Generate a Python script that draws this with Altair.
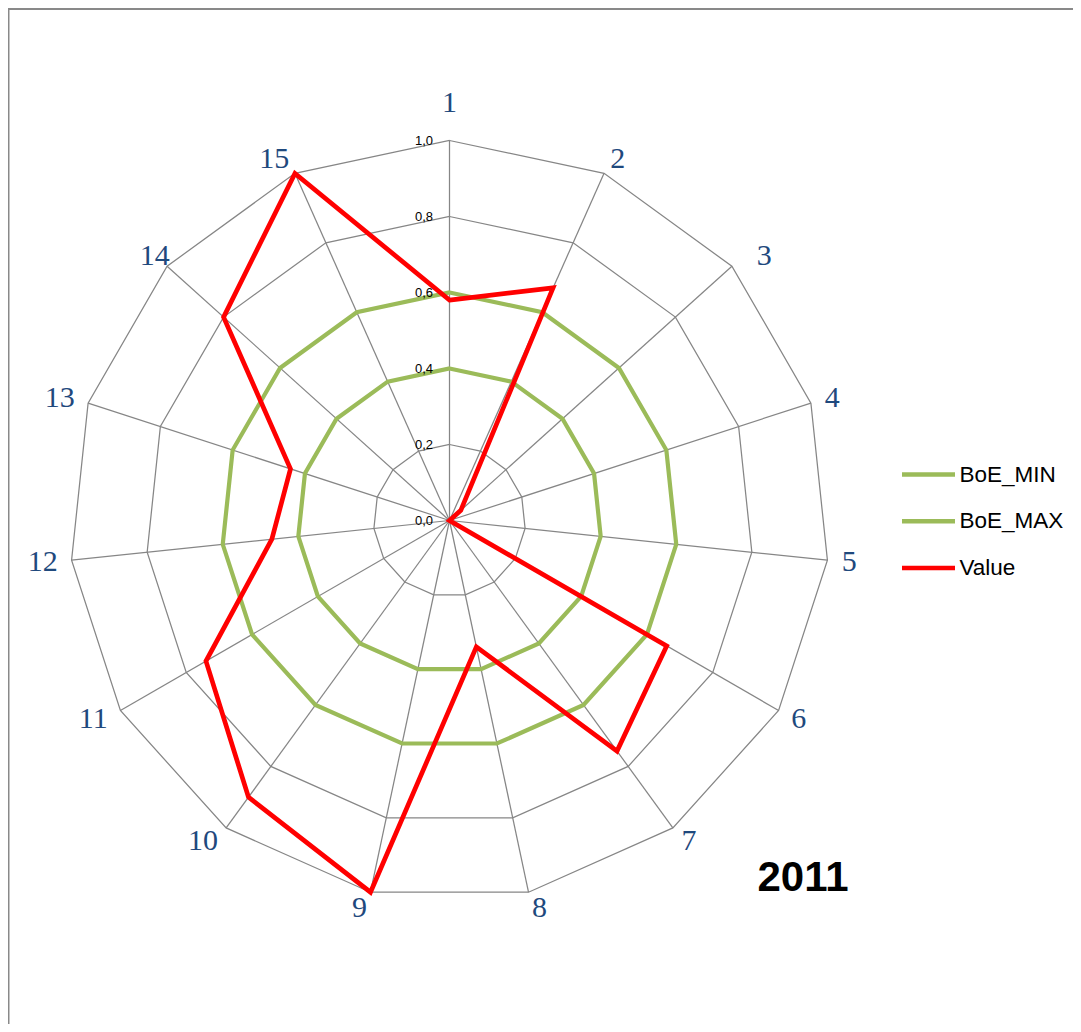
import altair as alt
import pandas as pd

# ---------------- data ----------------
axis_ids = [1, 2, 3, 4, 5, 6, 7, 8, 9, 10, 11, 12, 13, 14, 15]
axis_labels = ["1", "2", "3", "4", "5", "6", "7", "8", "9", "10", "11", "12", "13", "14", "15"]
boe_min = [0.4, 0.4, 0.4, 0.4, 0.4, 0.4, 0.4, 0.4, 0.4, 0.4, 0.4, 0.4, 0.4, 0.4, 0.4]
boe_max = [0.6, 0.6, 0.6, 0.6, 0.6, 0.6, 0.6, 0.6, 0.6, 0.6, 0.6, 0.6, 0.6, 0.6, 0.6]
value = [0.58, 0.67, 0.04, 0.0, 0.0, 0.66, 0.75, 0.34, 1.0, 0.90, 0.74, 0.47, 0.44, 0.80, 1.0]
grid_levels = [0.2, 0.4, 0.6, 0.8, 1.0]
tick_values = [0.0, 0.2, 0.4, 0.6, 0.8, 1.0]
tick_labels = ["0,0", "0,2", "0,4", "0,6", "0,8", "1,0"]
series_names = ["BoE_MIN", "BoE_MAX", "Value"]
series_colors = ["#9BBB59", "#9BBB59", "#FF0000"]
year_text = ["2011"]

# ---------------- layout ----------------
W, H = 1065, 1016
CX, CY, R = 441.5, 512.5, 380.0
N = len(axis_ids)
xdom = [-CX / R, (W - CX) / R]
ydom = [-(H - CY) / R, CY / R]
GRID = "#868686"
label_nudge_px = {3: 14, 14: 13}  # extra horizontal shift of a few category labels

xs = alt.Scale(domain=xdom, nice=False, zero=False)
ys = alt.Scale(domain=ydom, nice=False, zero=False)

ANG = f"(datum.idx - 1) * 2 * PI / {N}"

# tables built from the arrays
series_rows = []
for name, vals in zip(series_names, [boe_min, boe_max, value]):
    for i, v in zip(axis_ids, vals):
        series_rows.append({"series": name, "idx": i, "value": v})
series_df = pd.DataFrame(series_rows)

grid_df = pd.DataFrame([{"level": lv, "idx": i} for lv in grid_levels for i in axis_ids])
spoke_df = pd.DataFrame({"idx": axis_ids})
label_df = pd.DataFrame({"idx": axis_ids, "label": axis_labels,
                         "nudge": [label_nudge_px.get(i, 0) for i in axis_ids]})
tick_df = pd.DataFrame({"level": tick_values, "label": tick_labels})

# ---------------- layers ----------------
frame = alt.Chart(pd.DataFrame({"k": [0]})).mark_rule(color="#898989", strokeWidth=2)
frame_top = frame.encode(x=alt.value(0), x2=alt.value(W), y=alt.value(1))
frame_left = frame.encode(x=alt.value(0.5), y=alt.value(0), y2=alt.value(H))

grid = alt.Chart(grid_df).transform_calculate(
    ang=ANG,
    x="datum.level * sin(datum.ang)",
    y="datum.level * cos(datum.ang)",
).mark_line(interpolate="linear-closed", color=GRID, strokeWidth=1.25).encode(
    x=alt.X("x:Q", scale=xs, axis=None),
    y=alt.Y("y:Q", scale=ys, axis=None),
    detail="level:N",
    order="idx:Q",
)

spokes = alt.Chart(spoke_df).transform_calculate(
    ang=ANG,
    x0="0",
    y0="0",
    x1="sin(datum.ang)",
    y1="cos(datum.ang)",
).mark_rule(color=GRID, strokeWidth=1.25).encode(
    x=alt.X("x0:Q", scale=xs, axis=None),
    y=alt.Y("y0:Q", scale=ys, axis=None),
    x2="x1:Q",
    y2="y1:Q",
)

color_scale = alt.Scale(domain=series_names, range=series_colors)
legend = alt.Legend(
    title=None,
    orient="none",
    direction="vertical",
    legendX=891.5,
    legendY=437.5,
    padding=0,
    symbolType="stroke",
    symbolSize=2809,
    symbolStrokeWidth=4.5,
    labelFont="Liberation Sans",
    labelFontSize=22.5,
    labelColor="#000000",
    labelOffset=2,
    rowPadding=5.8,
)


def series_layer(names, width):
    return alt.Chart(series_df).transform_filter(
        alt.FieldOneOfPredicate(field="series", oneOf=names)
    ).transform_calculate(
        ang=ANG,
        x="datum.value * sin(datum.ang)",
        y="datum.value * cos(datum.ang)",
    ).mark_line(interpolate="linear-closed", strokeWidth=width, strokeJoin="miter", strokeCap="round").encode(
        x=alt.X("x:Q", scale=xs, axis=None),
        y=alt.Y("y:Q", scale=ys, axis=None),
        color=alt.Color("series:N", scale=color_scale, legend=legend),
        detail="series:N",
        order="idx:Q",
    )


green = series_layer(["BoE_MIN", "BoE_MAX"], 4.2)
red = series_layer(["Value"], 4.7)

ticks = alt.Chart(tick_df).transform_calculate(x0="0").mark_text(
    align="right", baseline="middle", dx=-16.5, font="Liberation Sans", fontSize=13, color="#000000"
).encode(
    x=alt.X("x0:Q", scale=xs, axis=None),
    y=alt.Y("level:Q", scale=ys, axis=None),
    text="label:N",
)

labels = alt.Chart(label_df).transform_calculate(
    ang=ANG,
    s="sin(datum.ang)",
    c="cos(datum.ang)",
    sg="datum.s > 0.001 ? 1 : (datum.s < -0.001 ? -1 : 0)",
    ox="datum.sg * (8 + 14 * abs(datum.s) + 7 * (length(datum.label) - 1)) + datum.nudge",
    oy="datum.idx == 1 ? 37.5 : 16 * datum.c",
    lx=f"datum.s + datum.ox / {R}",
    ly=f"datum.c + datum.oy / {R}",
).mark_text(
    align="center", baseline="middle", font="Liberation Serif", fontSize=30, color="#1F497D"
).encode(
    x=alt.X("lx:Q", scale=xs, axis=None),
    y=alt.Y("ly:Q", scale=ys, axis=None),
    text="label:N",
)

year = alt.Chart(pd.DataFrame({"t": year_text})).mark_text(
    align="center", baseline="middle", font="Liberation Sans", fontSize=42, fontWeight="bold", color="#000000"
).encode(x=alt.value(795), y=alt.value(870), text="t:N")

chart = alt.layer(
    frame_top, frame_left, grid, spokes, green, red, ticks, labels, year
).properties(
    width=W, height=H, autosize=alt.AutoSizeParams(type="none"), padding=0, background="#ffffff"
).configure_view(stroke=None)

chart.save("out.html", embed_options={"renderer": "svg", "actions": False})
